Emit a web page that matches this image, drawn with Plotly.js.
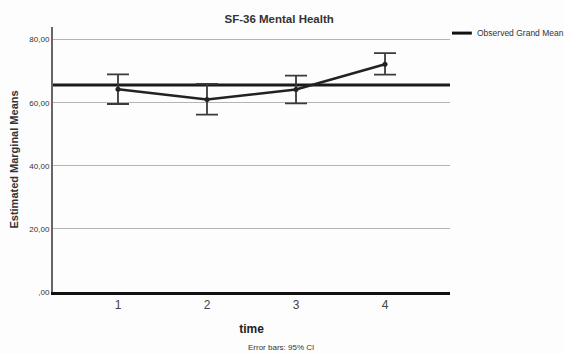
<!DOCTYPE html>
<html>
<head>
<meta charset="utf-8">
<script src="https://cdn.plot.ly/plotly-3.0.1.min.js"></script>
<style>html,body{margin:0;padding:0;background:#fdfdfd;}#chart{width:564px;height:354px;}</style>
</head>
<body>
<div id="chart"></div>
<script>
const timePoints = [1, 2, 3, 4];
const estMeans = [64.3, 61.0, 64.2, 72.2];
const ciUpper = [69.0, 66.0, 68.6, 75.7];
const ciLower = [59.6, 56.2, 59.8, 68.9];
const grandMean = 65.6;
const yTickVals = [0, 20, 40, 60, 80];
const yTickText = [",00", "20,00", "40,00", "60,00", "80,00"];
const legendLabel = "Observed Grand Mean";

const FONT = "Liberation Sans, Arial, sans-serif";

const errPlus = ciUpper.map((u, i) => u - estMeans[i]);
const errMinus = estMeans.map((m, i) => m - ciLower[i]);

const traces = [
  {
    x: timePoints, y: estMeans, type: "scatter", mode: "lines+markers",
    line: {color: "#222222", width: 2.5},
    marker: {color: "#222222", size: 5},
    error_y: {type: "data", symmetric: false, array: errPlus, arrayminus: errMinus,
      color: "#3a3a3a", thickness: 1.8, width: 11},
    showlegend: false, hoverinfo: "skip"
  }
];

const layout = {
  width: 564, height: 354,
  paper_bgcolor: "#fdfdfd", plot_bgcolor: "#fdfdfd",
  margin: {l: 53, r: 114, t: 27, b: 62},
  showlegend: false,
  font: {family: FONT, color: "#222222"},
  title: {text: "<b>SF-36 Mental Health</b>", font: {size: 11.5, family: FONT, color: "#333"},
    x: 0.495, xref: "container", y: 0.945, yanchor: "middle"},
  xaxis: {
    range: [0.27, 4.73], tickvals: timePoints, ticktext: timePoints.map(String),
    showgrid: false, zeroline: false, showline: true, linecolor: "#111", linewidth: 3,
    ticks: "", tickfont: {size: 12, color: "#444"},
    title: {text: "<b>time</b>", font: {size: 12, color: "#222"}, standoff: 14}
  },
  yaxis: {
    range: [0, 84], tickvals: yTickVals, ticktext: yTickText,
    showgrid: true, gridcolor: "#b4b4b4", gridwidth: 1,
    zeroline: false, showline: true, linecolor: "#666", linewidth: 2,
    ticks: "", tickfont: {size: 8, color: "#333"},
    title: {text: "<b>Estimated Marginal Means</b>", font: {size: 11, color: "#333"}, standoff: 9}
  },
  shapes: [
    {type: "line", xref: "paper", x0: 0, x1: 1, yref: "y", y0: grandMean, y1: grandMean,
      line: {color: "#1a1a1a", width: 3}, layer: "below"},
    {type: "line", xref: "paper", x0: 1.005, x1: 1.055, yref: "paper", y0: 0.977, y1: 0.977,
      line: {color: "#111111", width: 3}}
  ],
  annotations: [
    {text: legendLabel, xref: "paper", yref: "paper", x: 1.062, y: 0.977,
      xanchor: "left", yanchor: "middle", showarrow: false, font: {size: 8.5, color: "#333"}},
    {text: "Error bars: 95% CI", xref: "paper", yref: "paper", x: 0.575, y: -0.21,
      xanchor: "center", yanchor: "middle", showarrow: false, font: {size: 8, color: "#333"}}
  ]
};

Plotly.newPlot("chart", traces, layout, {displayModeBar: false, staticPlot: true});
</script>
</body>
</html>
